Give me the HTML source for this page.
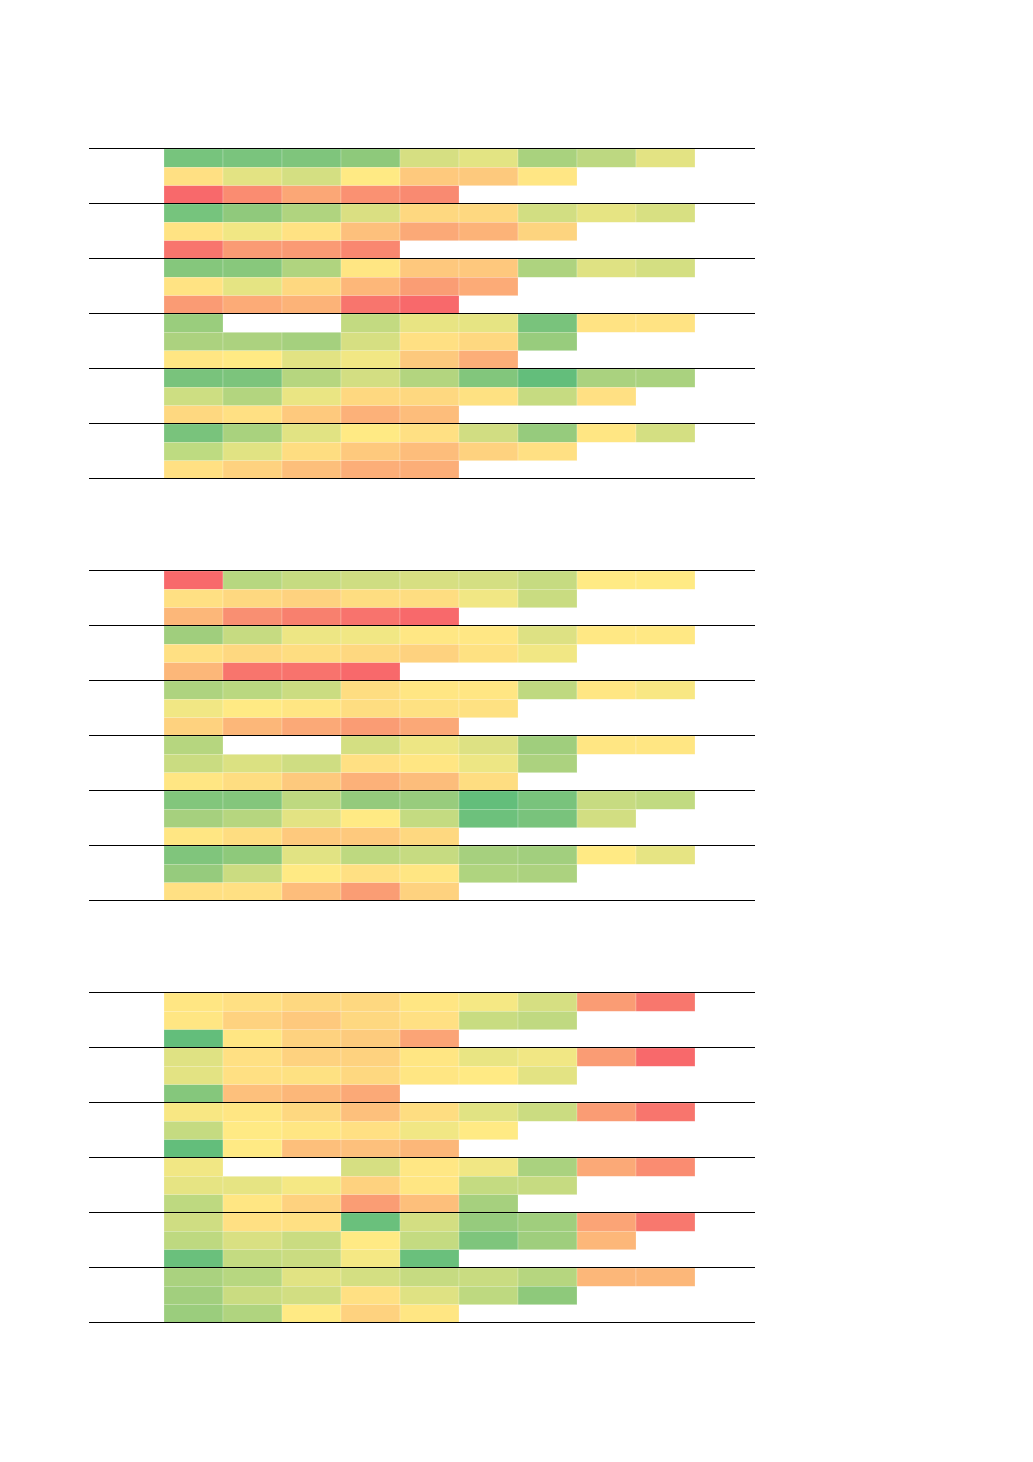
<!DOCTYPE html>
<html><head><meta charset="utf-8"><style>
html,body{margin:0;padding:0;background:#fff}
svg{display:block}
</style></head><body>
<svg id="s" width="1033" height="1462" xmlns="http://www.w3.org/2000/svg"></svg>
<script>
const P=[
[
["#77c47d,#7ac47d,#7fc57c,#8ec97b,#d6df82,#e3e483,#a9d27e,#bdd881,#e3e383","#ffe083,#e3e383,#d4df82,#ffea84,#fec97d,#fdc97d,#ffe684","#f8696b,#fa8c71,#fba776,#fa9172,#f98a71"],
["#76c47d,#90c97c,#b0d47f,#dadf82,#fed880,#fed880,#d2de82,#e6e483,#d8e082","#ffe383,#f1e784,#ffe283,#fdc07c,#fba977,#fcb378,#fdd47f","#f8756d,#fa9b74,#fa9a74,#f98770"],
["#85c77c,#88c87c,#b0d47f,#ffe683,#fec87d,#fec87d,#aed37f,#dfe283,#d4df82","#ffe383,#e5e483,#fed880,#fdb779,#fa9d74,#fcab77","#fa9b74,#fcab77,#fcb378,#f8756d,#f8696b"],
["#9acd7d,,,#c3da81,#e8e483,#e6e483,#79c37c,#ffe383,#ffe383","#acd27f,#acd27f,#a5d07e,#d6df82,#ffe083,#fed880,#98cc7d","#ffe683,#ffea84,#e2e383,#f1e784,#fdc97d,#fcae78"],
["#79c37c,#7cc47c,#b6d67f,#d3de82,#b3d57f,#82c67c,#63be7b,#aad27f,#aad27f","#cdde82,#b3d57f,#eae583,#fed880,#fed880,#fee182,#c6db81,#ffe083","#fed880,#ffe083,#fec97d,#fcb179,#fdbd7b"],
["#79c37c,#a9d27e,#e1e383,#ffea84,#ffe083,#d1dd82,#96cb7d,#ffe683,#d4df82","#bedb81,#e1e383,#fedd81,#fec97d,#fdbd7b,#fed27f,#ffe083","#ffe083,#fed27f,#fdbf7b,#fcae78,#fcae78"]
],[
["#f8696b,#b7d780,#c6db81,#cfdd82,#d7df82,#d4df82,#c6db81,#ffea84,#ffea84","#ffe083,#fed880,#fed27f,#fedd81,#fedd81,#f1e784,#c9dc81","#fcb779,#f98f72,#f8806e,#f8736d,#f8696b"],
["#a0ce7d,#c6db81,#ede684,#f1e784,#ffe784,#ffe784,#dde183,#ffe884,#ffe884","#ffe083,#fed880,#fedd81,#fed880,#fed27f,#fee182,#f1e784","#fcb779,#f8756d,#f8736d,#f8696b"],
["#aed37f,#bad880,#cbdc81,#fedd81,#ffe683,#ffe683,#bfd980,#ffe683,#f8e783","#f1e784,#ffea84,#ffe683,#fedd81,#fee182,#fee182","#fed27f,#fcb779,#fba977,#fa9c74,#fba877"],
["#b6d67f,,,#d4df82,#ede684,#dde183,#a0ce7d,#ffe683,#ffe683","#cadc81,#dbe182,#cfdd82,#ffe083,#ffe683,#ede684,#acd27f","#ffe683,#fedd81,#fdc97d,#fcb179,#fcbd7b,#fedd81"],
["#82c67c,#84c67c,#bed980,#94ca7c,#98cc7d,#63be7b,#79c37c,#c7db81,#c1da81","#a6d07e,#b6d67f,#e3e383,#ffea84,#c4db81,#6dc17c,#79c37c,#d2de82","#ffe683,#fedd81,#fec97d,#fec97d,#fed880"],
["#80c57c,#8ec97b,#e1e383,#bed980,#c6db81,#a6d07e,#a2cf7e,#ffea84,#e6e483","#96cb7d,#cbdc81,#ffea84,#ffe083,#ffe683,#afd47f,#acd27f","#ffe083,#ffe083,#fdbd7b,#fa9d74,#fed27f"]
],[
["#ffe683,#ffe083,#fed880,#fed880,#ffe683,#f5e884,#d6df82,#fa9c74,#f8776d","#ffe683,#fed27f,#fec97d,#fed880,#ffe083,#c8dc81,#c0d981","#63be7b,#ffe683,#fed27f,#fdcb7d,#fba476"],
["#dfe283,#ffe083,#fed27f,#fed27f,#ffe683,#e9e583,#f1e784,#fa9c74,#f8696b","#e3e383,#ffe083,#fee182,#fed880,#ffe683,#ffea84,#e3e383","#85c77c,#fdc07c,#fcb779,#fba977"],
["#f8e783,#ffe683,#fed880,#fdc07c,#fedd81,#e1e383,#cbdc81,#fa9c74,#f8756d","#c5db81,#ffea84,#ffe683,#ffe083,#f1e784,#ffea84","#63be7b,#ffea84,#fdbf7b,#fdc07c,#fcb779"],
["#f1e784,,,#d6df82,#ffe784,#f1e784,#aad27f,#fba977,#fa8c71","#e6e483,#e6e483,#f5e884,#fed27f,#ffe683,#c4db81,#c6db81","#bed980,#ffe683,#fed27f,#fa9d74,#fdbf7b,#a6d07e"],
["#cfdd82,#ffe083,#ffe083,#6ac07c,#d3de82,#96cb7d,#a0ce7d,#fba476,#f8786e","#bed980,#d9e082,#cadc81,#ffea84,#c4db81,#7ec57c,#9fce7d,#fdb779","#6ac07c,#c4db81,#cadc81,#f5e884,#6ac07c"],
["#aad27f,#b7d780,#e1e383,#d4df82,#c6db81,#c9dc81,#b6d67f,#fcb779,#fcb779","#a2cf7e,#cadc81,#d2de82,#ffe083,#dfe283,#bed980,#8ec97b","#9bcd7d,#b0d47f,#ffea84,#fed27f,#ffe683"]
]];
const tops=[149,571,993];
let h='';
P.forEach((panel,pi)=>{
  panel.forEach((g,gi)=>{
    const y0=tops[pi]+gi*55;
    g.forEach((row,ri)=>{
      row.split(',').forEach((c,ci)=>{
        if(!c)return;
        const x=164+ci*59, y=y0+ri*18.33;
        h+=`<rect x="${x}" y="${y.toFixed(2)}" width="59" height="18.33" fill="${c}" stroke="#fff" stroke-opacity="0.35" stroke-width="0.6"/>`;
      });
    });
  });
  for(let i=0;i<=6;i++){const y=tops[pi]+i*55-0.5;h+=`<line x1="89" x2="755" y1="${y}" y2="${y}" stroke="#000" stroke-width="1"/>`;}
});
document.getElementById('s').innerHTML=h;
</script>
</body></html>
